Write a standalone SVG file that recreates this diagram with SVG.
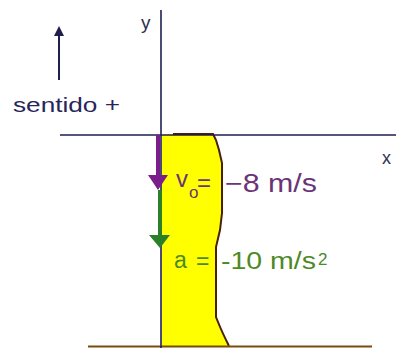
<svg xmlns="http://www.w3.org/2000/svg" width="396" height="348" viewBox="0 0 396 348">
<style>
.t{font-family:"Liberation Sans",Arial,sans-serif}
.ax{stroke:#1e1e50;stroke-width:1.6;fill:none}
.pur{fill:#6a3478}
.grn{fill:#4e8a24}
</style>
<rect width="396" height="348" fill="#ffffff"/>
<g id="building">
<path d="M162,135 L173,134 L213,134 L216,140 L219,150 L222,163 L222,213 L220,230 L216,247 L216,263 L216,317 L218,322 Q222,332 229,346 L162,346 Z" fill="#ffff00"/>
<path d="M173,134 L213,134 L216,140 L219,150 L222,163 L222,213 L220,230 L216,247 L216,263 L216,317 L218,322 Q222,332 229,346" fill="none" stroke="#4a2008" stroke-width="2"/>
</g>
<g id="ground">
<line x1="88" y1="346.5" x2="372" y2="346.5" stroke="#7a4a10" stroke-width="2"/>
</g>
<g id="axes">
<line class="ax" x1="60" y1="135" x2="396" y2="135"/>
<line class="ax" x1="161" y1="10" x2="161" y2="348"/>
<text class="t" x="141" y="29" font-size="19" fill="#303050">y</text>
<text class="t" x="382" y="164" font-size="18" fill="#303050">x</text>
</g>
<g id="connectors">
<line x1="59" y1="34" x2="59" y2="80" stroke="#1e1e50" stroke-width="2"/>
<polygon points="54,36 64,36 59,26" fill="#1e1e50"/>
<line x1="158" y1="135" x2="158" y2="178" stroke="#7a1f8a" stroke-width="4"/>
<polygon points="148,175 168,175 158,190" fill="#7a1f8a"/>
<line x1="160" y1="190" x2="160" y2="238" stroke="#2a7f2a" stroke-width="4"/>
<polygon points="149,235 170,235 160,248" fill="#2a7f2a"/>
</g>
<g id="sentido">
<text class="t" x="13" y="112" font-size="21" fill="#26265a" textLength="107" lengthAdjust="spacingAndGlyphs">sentido +</text>
</g>
<g id="v0">
<text class="t pur" x="176" y="187" font-size="24">v</text>
<text class="t pur" x="189" y="198" font-size="17">o</text>
<text class="t pur" x="197" y="191" font-size="24">=</text>
<text class="t pur" x="225" y="192" font-size="25" textLength="92" lengthAdjust="spacingAndGlyphs">−8 m/s</text>
</g>
<g id="acc">
<text class="t grn" x="174" y="268" font-size="23">a</text>
<text class="t grn" x="196" y="269" font-size="23">=</text>
<text class="t grn" x="221" y="269" font-size="23" textLength="95" lengthAdjust="spacingAndGlyphs">-10 m/s</text>
<text class="t grn" x="318" y="265" font-size="17">2</text>
</g>
</svg>
